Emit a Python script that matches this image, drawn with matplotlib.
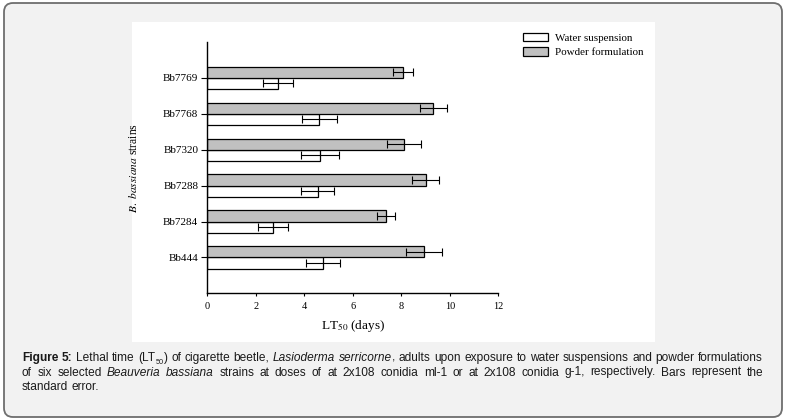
import matplotlib
matplotlib.use("Agg")
import matplotlib.pyplot as plt
from matplotlib.patches import FancyBboxPatch, Rectangle, Patch
from matplotlib.transforms import IdentityTransform
import numpy as np

# ---- data ----
strains = ["Bb444", "Bb7284", "Bb7288", "Bb7320", "Bb7768", "Bb7769"]
water_vals = [4.78, 2.70, 4.55, 4.66, 4.62, 2.93]
water_err = [0.71, 0.62, 0.67, 0.78, 0.73, 0.62]
powder_vals = [8.95, 7.36, 9.00, 8.12, 9.32, 8.08]
powder_err = [0.74, 0.38, 0.55, 0.69, 0.55, 0.41]
xticks = [0, 2, 4, 6, 8, 10, 12]
legend_labels = ["Water suspension", "Powder formulation"]

W, H = 786, 420
plt.rcParams['mathtext.fontset'] = 'stix'
fig = plt.figure(figsize=(W / 100, H / 100), dpi=100, facecolor="white")

# outer rounded frame
frame = FancyBboxPatch((4, 3), W - 8, H - 6, boxstyle="round,pad=0,rounding_size=9",
                       transform=IdentityTransform(), facecolor="#f2f2f2",
                       edgecolor="#6e6e6e", linewidth=1.3, zorder=0)
fig.patches.append(frame)
# white chart panel
panel = Rectangle((132, H - 342), 655 - 132, 342 - 22, transform=IdentityTransform(),
                  facecolor="white", edgecolor="none", zorder=0.5)
fig.patches.append(panel)

# axes
x0, x1, ytop, ybot = 207.3, 498.3, 42, 293.3
ax = fig.add_axes([x0 / W, (H - ybot) / H, (x1 - x0) / W, (ybot - ytop) / H])
ax.set_zorder(2)
ax.set_facecolor("none")
serif = "Liberation Serif"

pos = np.arange(1, len(strains) + 1)
bh = 0.31
ax.barh(pos - bh / 2, water_vals, height=bh, color="white", edgecolor="black", linewidth=0.9, zorder=2)
ax.barh(pos + bh / 2, powder_vals, height=bh, color="#c0c0c0", edgecolor="black", linewidth=0.9, zorder=2)
ax.errorbar(water_vals, pos - bh / 2, xerr=water_err, fmt="none", ecolor="black",
            elinewidth=0.8, capsize=3, capthick=0.8, zorder=3)
ax.errorbar(powder_vals, pos + bh / 2, xerr=powder_err, fmt="none", ecolor="black",
            elinewidth=0.8, capsize=3, capthick=0.8, zorder=3)

ax.set_xlim(0, 12)
ax.set_ylim(0, 7)
ax.set_xticks(xticks)
ax.set_xticklabels([str(v) for v in xticks], fontfamily=serif, fontsize=7.4)
ax.set_yticks(pos)
ax.set_yticklabels(strains, fontfamily=serif, fontsize=8)
ax.tick_params(axis="y", length=4.5, width=0.8, pad=2)
ax.tick_params(axis="x", length=2, width=0.8, pad=4)
for s in ["top", "right"]:
    ax.spines[s].set_visible(False)
for s in ["left", "bottom"]:
    ax.spines[s].set_linewidth(1.0)
ax.set_xlabel("LT$_{50}$ (days)", fontfamily=serif, fontsize=9.5, labelpad=5)
ax.set_ylabel(r"$\it{B.\ bassiana}$ strains", fontfamily=serif, fontsize=8.3)
ax.yaxis.set_label_coords((140 - x0) / (x1 - x0), 0.5)

handles = [Patch(facecolor="white", edgecolor="black", linewidth=0.9),
           Patch(facecolor="#c0c0c0", edgecolor="black", linewidth=0.9)]
leg = fig.legend(handles, legend_labels, loc="upper left",
                 bbox_to_anchor=(523 / W, 1 - 33 / H), frameon=False,
                 prop={"family": serif, "size": 7.9}, borderpad=0, borderaxespad=0,
                 handlelength=2.25, handleheight=0.8, handletextpad=0.7, labelspacing=0.38)
leg.set_zorder(3)

# ---- caption (justified) ----
cap_font = ["Liberation Sans Narrow", "Liberation Sans"]
N, B, I, S = "n", "b", "i", "s"
lines = [
    [[("Figure", B)], [("5:", B)], [("Lethal", N)], [("time", N)],
     [("(LT", N), ("50", S), (")", N)], [("of", N)], [("cigarette", N)], [("beetle,", N)],
     [("Lasioderma", I)], [("serricorne", I), (",", N)], [("adults", N)], [("upon", N)],
     [("exposure", N)], [("to", N)], [("water", N)], [("suspensions", N)], [("and", N)],
     [("powder", N)], [("formulations", N)]],
    [[("of", N)], [("six", N)], [("selected", N)], [("Beauveria", I)], [("bassiana", I)]]
    + [[(w, N)] for w in "strains at doses of at 2x108 conidia ml-1 or at 2x108 conidia g-1, respectively. Bars represent the".split()],
    [[("standard", N)], [("error.", N)]],
]
justify = [True, True, False]
baselines = [361, 375.5, 390]
left, right = 22, 763

fig.canvas.draw()
rend = fig.canvas.get_renderer()


def style_kw(st, size):
    kw = dict(family=cap_font, fontsize=size, color="#1a1a1a")
    if st == B:
        kw["fontweight"] = "bold"
    if st == I:
        kw["fontstyle"] = "italic"
    if st == S:
        kw["fontsize"] = size * 0.62
    return kw


def part_width(txt, st, size):
    t = fig.text(0, 0, txt, **style_kw(st, size))
    w = t.get_window_extent(rend).width
    t.remove()
    return w


# choose the largest caption size for which every justified line fits with normal spaces
cap_size = 9.6
while cap_size > 7:
    sp = part_width("a b", N, cap_size) - part_width("ab", N, cap_size)
    ok = True
    for words, just in zip(lines, justify):
        if not just:
            continue
        tot = sum(part_width(t, s, cap_size) for wd in words for t, s in wd)
        if tot + sp * (len(words) - 1) > right - left:
            ok = False
    if ok:
        break
    cap_size -= 0.1

space_w = part_width("a b", N, cap_size) - part_width("ab", N, cap_size)
for words, just, base in zip(lines, justify, baselines):
    widths = [[part_width(t, s, cap_size) for t, s in wd] for wd in words]
    tot = sum(sum(w) for w in widths)
    gap = (right - left - tot) / (len(words) - 1) if just else space_w
    x = left
    for wd, ws in zip(words, widths):
        for (t, s), w in zip(wd, ws):
            yy = base + (3 if s == S else 0)
            fig.text(x / W, 1 - yy / H, t, va="baseline", ha="left", **style_kw(s, cap_size))
            x += w
        x += gap

fig.savefig("out.png", dpi=100, facecolor="white")
